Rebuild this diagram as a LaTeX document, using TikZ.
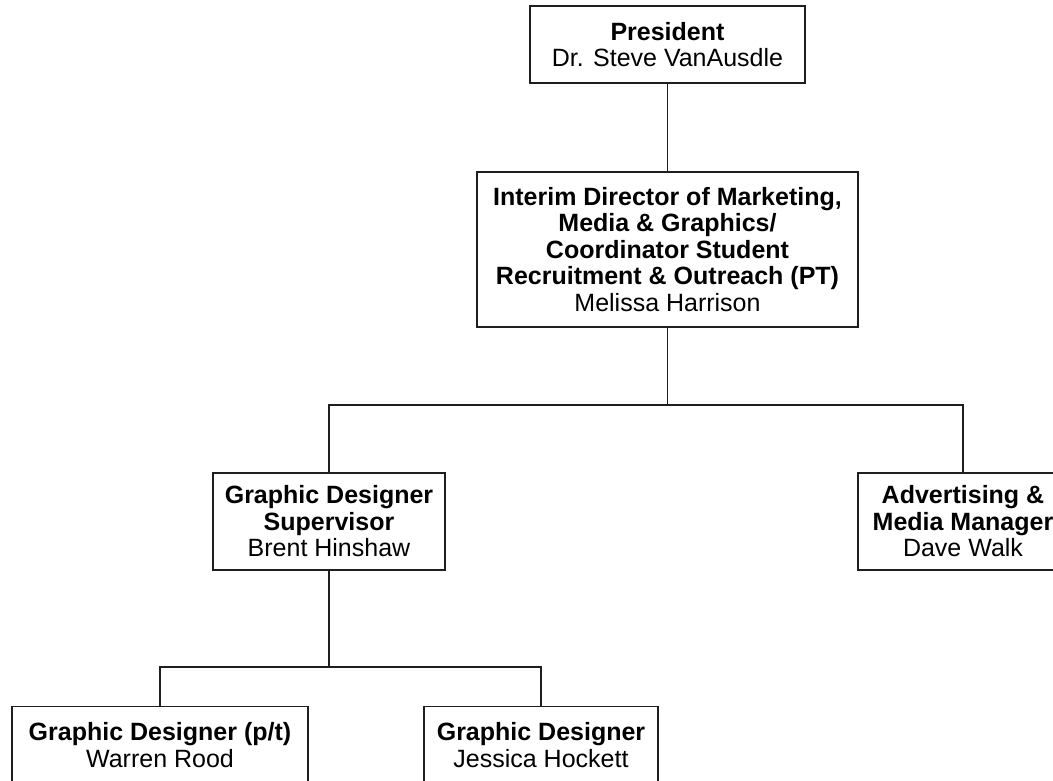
\documentclass[tikz,border=0pt]{standalone}
\usepackage{fontspec}
\setmainfont{Liberation Sans}
\usepackage{tikz}
\definecolor{line_grey}{RGB}{30, 30, 30}
\tikzstyle{box}=[rectangle,fill=white,draw=line_grey,line width=1.3pt,
  align=center,inner sep=3pt,font=\fontsize{25}{26.5}\selectfont]
\tikzstyle{low}=[box,minimum height=77pt]
\tikzstyle{high}=[box,minimum height=97pt]
\tikzstyle{wire}=[draw=line_grey,line width=1.3pt]
\tikzstyle{none}=[inner sep=0pt,minimum size=0pt]

\begin{document}
\begin{tikzpicture}[x=1pt,y=-1pt]
		\path [use as bounding box] (0, 0) rectangle (1053, 781);
		\clip (0, 0) rectangle (1053, 781);
		\node [style=low, minimum width=275pt] (0) at (667.5, 44.5) {\textbf{President}\\Dr. Steve VanAusdle};
		\node [style=box, minimum width=381pt, minimum height=155pt] (1) at (667.5, 249.5) {\textbf{Interim Director of Marketing,}\\\textbf{Media \& Graphics/}\\\textbf{Coordinator Student}\\\textbf{Recruitment \& Outreach (PT)}\\Melissa Harrison};
		\node [style=high, minimum width=232pt] (2) at (329, 521.5) {\textbf{Graphic Designer}\\\textbf{Supervisor}\\Brent Hinshaw};
		\node [style=high, minimum width=210pt] (3) at (963, 521.5) {\textbf{Advertising \&}\\\textbf{Media Manager}\\Dave Walk};
		\node [style=low, minimum width=296pt] (4) at (160, 745) {\textbf{Graphic Designer (p/t)}\\Warren Rood};
		\node [style=low, minimum width=234pt] (5) at (541, 745) {\textbf{Graphic Designer}\\Jessica Hockett};
		\node [style=none] (6) at (667.5, 405) {};
		\node [style=none] (7) at (329, 667) {};
		\draw [style=wire] (0) to (1);
		\draw [style=wire] (1) to (6.center);
		\draw [style=wire] (6.center) -| (2);
		\draw [style=wire] (6.center) -| (3);
		\draw [style=wire] (2) to (7.center);
		\draw [style=wire] (7.center) -| (4);
		\draw [style=wire] (7.center) -| (5);
\end{tikzpicture}
\end{document}
